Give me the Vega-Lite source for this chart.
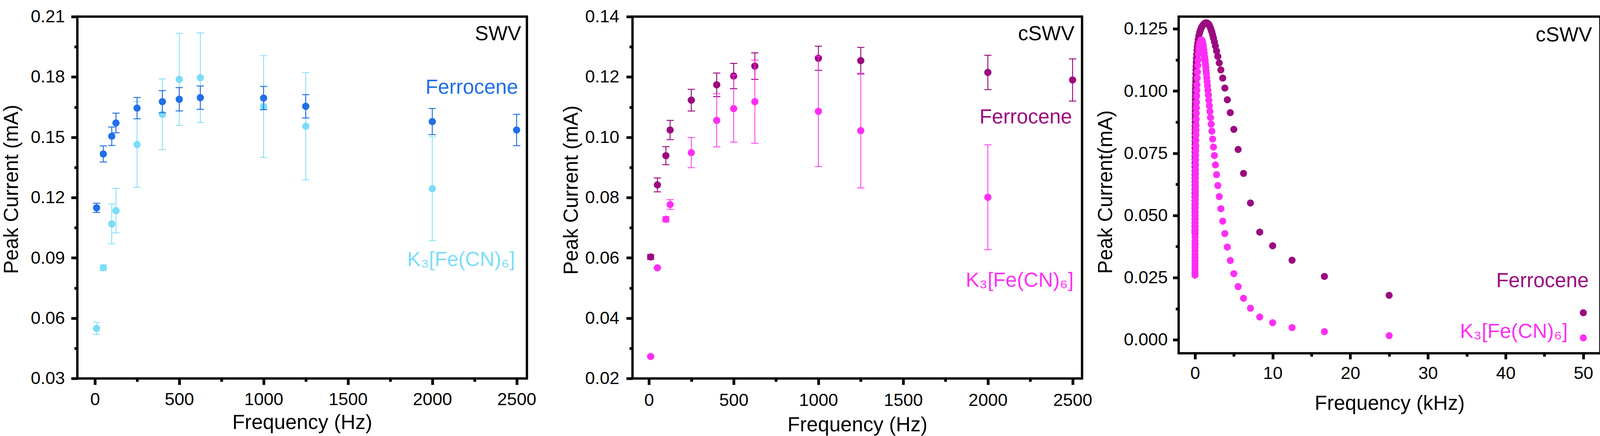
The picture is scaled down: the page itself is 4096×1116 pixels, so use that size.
{
  "$schema": "https://vega.github.io/schema/vega-lite/v6.json",
  "autosize": {"type": "pad"},
  "padding": {"left": 0, "top": -4.4, "right": 0, "bottom": 0},
  "background": "white",
  "config": {
    "font": "Liberation Sans",
    "view": {"stroke": "#000000", "strokeWidth": 6},
    "axis": {"domain": false, "grid": false, "tickColor": "#000000", "tickWidth": 7, "labelFont": "Liberation Sans", "labelFontSize": 45, "labelColor": "#000000", "titleFont": "Liberation Sans", "titleFontSize": 52, "titleFontWeight": "normal", "titleColor": "#000000", "labelFlush": false, "labelOverlap": false},
    "text": {"font": "Liberation Sans"}
  },
  "resolve": {"scale": {"color": "independent", "x": "independent", "y": "independent"}},
  "datasets": {
    "p1F": [
      {"f": 10, "i": 0.1149, "e": 0.0023, "s": "F"},
      {"f": 50, "i": 0.1417, "e": 0.0040, "s": "F"},
      {"f": 100, "i": 0.1505, "e": 0.0046, "s": "F"},
      {"f": 125, "i": 0.1571, "e": 0.0049, "s": "F"},
      {"f": 250, "i": 0.1645, "e": 0.0053, "s": "F"},
      {"f": 400, "i": 0.1677, "e": 0.0055, "s": "F"},
      {"f": 500, "i": 0.1689, "e": 0.0058, "s": "F"},
      {"f": 625, "i": 0.1697, "e": 0.0058, "s": "F"},
      {"f": 1000, "i": 0.1695, "e": 0.0058, "s": "F"},
      {"f": 1250, "i": 0.1654, "e": 0.0058, "s": "F"},
      {"f": 2000, "i": 0.1578, "e": 0.0065, "s": "F"},
      {"f": 2500, "i": 0.1536, "e": 0.0078, "s": "F"}
    ],
    "p1K": [
      {"f": 10, "i": 0.0549, "e": 0.0030, "s": "K"},
      {"f": 50, "i": 0.0851, "e": 0.0014, "s": "K"},
      {"f": 100, "i": 0.1069, "e": 0.0099, "s": "K"},
      {"f": 125, "i": 0.1135, "e": 0.0111, "s": "K"},
      {"f": 250, "i": 0.1464, "e": 0.0213, "s": "K"},
      {"f": 400, "i": 0.1614, "e": 0.0176, "s": "K"},
      {"f": 500, "i": 0.1788, "e": 0.0229, "s": "K"},
      {"f": 625, "i": 0.1796, "e": 0.0223, "s": "K"},
      {"f": 1000, "i": 0.1653, "e": 0.0253, "s": "K"},
      {"f": 1250, "i": 0.1555, "e": 0.0267, "s": "K"},
      {"f": 2000, "i": 0.1244, "e": 0.0258, "s": "K"}
    ],
    "p1T": [
      {"f": 2527, "i": 0.2013, "t": "SWV", "s": "T"},
      {"f": 2509, "i": 0.1747, "t": "Ferrocene", "s": "F"},
      {"f": 2491, "i": 0.0891, "t": "K₃[Fe(CN)₆]", "s": "K"}
    ],
    "p2F": [
      {"f": 10, "i": 0.0603, "e": 0.0008, "s": "F"},
      {"f": 50, "i": 0.0842, "e": 0.0023, "s": "F"},
      {"f": 100, "i": 0.0939, "e": 0.0030, "s": "F"},
      {"f": 125, "i": 0.1024, "e": 0.0032, "s": "F"},
      {"f": 250, "i": 0.1123, "e": 0.0036, "s": "F"},
      {"f": 400, "i": 0.1174, "e": 0.0039, "s": "F"},
      {"f": 500, "i": 0.1203, "e": 0.0042, "s": "F"},
      {"f": 625, "i": 0.1236, "e": 0.0044, "s": "F"},
      {"f": 1000, "i": 0.1262, "e": 0.0040, "s": "F"},
      {"f": 1250, "i": 0.1254, "e": 0.0044, "s": "F"},
      {"f": 2000, "i": 0.1215, "e": 0.0057, "s": "F"},
      {"f": 2500, "i": 0.1190, "e": 0.0070, "s": "F"}
    ],
    "p2K": [
      {"f": 10, "i": 0.0273, "e": 0.0003, "s": "K"},
      {"f": 50, "i": 0.0567, "e": 0.0003, "s": "K"},
      {"f": 100, "i": 0.0728, "e": 0.0009, "s": "K"},
      {"f": 125, "i": 0.0777, "e": 0.0016, "s": "K"},
      {"f": 250, "i": 0.0949, "e": 0.0050, "s": "K"},
      {"f": 400, "i": 0.1056, "e": 0.0088, "s": "K"},
      {"f": 500, "i": 0.1095, "e": 0.0111, "s": "K"},
      {"f": 625, "i": 0.1118, "e": 0.0138, "s": "K"},
      {"f": 1000, "i": 0.1086, "e": 0.0183, "s": "K"},
      {"f": 1250, "i": 0.1022, "e": 0.0190, "s": "K"},
      {"f": 2000, "i": 0.0801, "e": 0.0174, "s": "K"}
    ],
    "p2T": [
      {"f": 2511, "i": 0.1342, "t": "cSWV", "s": "T"},
      {"f": 2497, "i": 0.1067, "t": "Ferrocene", "s": "F"},
      {"f": 2506, "i": 0.0525, "t": "K₃[Fe(CN)₆]", "s": "K"}
    ],
    "p3F": [
      {"f": 50, "i": 0.0109, "s": "F"}, {"f": 25, "i": 0.0179, "s": "F"}, {"f": 16.667, "i": 0.0255, "s": "F"},
      {"f": 12.5, "i": 0.0320, "s": "F"}, {"f": 10, "i": 0.0378, "s": "F"}, {"f": 8.333, "i": 0.0433, "s": "F"},
      {"f": 7.143, "i": 0.0550, "s": "F"}, {"f": 6.25, "i": 0.0669, "s": "F"}, {"f": 5.556, "i": 0.0765, "s": "F"},
      {"f": 5.0, "i": 0.0846, "s": "F"}, {"f": 4.545, "i": 0.0913, "s": "F"}, {"f": 4.167, "i": 0.0965, "s": "F"},
      {"f": 3.846, "i": 0.1012, "s": "F"}, {"f": 3.571, "i": 0.1052, "s": "F"}, {"f": 3.333, "i": 0.1085, "s": "F"},
      {"f": 3.125, "i": 0.1113, "s": "F"}, {"f": 2.941, "i": 0.1139, "s": "F"}, {"f": 2.778, "i": 0.1161, "s": "F"},
      {"f": 2.632, "i": 0.1181, "s": "F"}, {"f": 2.5, "i": 0.1198, "s": "F"}, {"f": 2.381, "i": 0.1213, "s": "F"},
      {"f": 2.273, "i": 0.1226, "s": "F"}, {"f": 2.174, "i": 0.1237, "s": "F"}, {"f": 2.083, "i": 0.1246, "s": "F"},
      {"f": 2.0, "i": 0.1253, "s": "F"}, {"f": 1.923, "i": 0.1259, "s": "F"}, {"f": 1.852, "i": 0.1264, "s": "F"},
      {"f": 1.786, "i": 0.1267, "s": "F"}, {"f": 1.724, "i": 0.1269, "s": "F"}, {"f": 1.667, "i": 0.1271, "s": "F"},
      {"f": 1.613, "i": 0.1272, "s": "F"}, {"f": 1.563, "i": 0.1273, "s": "F"}, {"f": 1.5, "i": 0.1274, "s": "F"},
      {"f": 1.429, "i": 0.1274, "s": "F"}, {"f": 1.36, "i": 0.1274, "s": "F"}, {"f": 1.3, "i": 0.1273, "s": "F"},
      {"f": 1.2, "i": 0.1271, "s": "F"}, {"f": 1.1, "i": 0.1268, "s": "F"}, {"f": 1.0, "i": 0.1264, "s": "F"},
      {"f": 0.9, "i": 0.1259, "s": "F"}, {"f": 0.8, "i": 0.1253, "s": "F"}, {"f": 0.7, "i": 0.1245, "s": "F"},
      {"f": 0.6, "i": 0.1235, "s": "F"}, {"f": 0.5, "i": 0.1222, "s": "F"}, {"f": 0.42, "i": 0.1208, "s": "F"},
      {"f": 0.35, "i": 0.1192, "s": "F"}, {"f": 0.3, "i": 0.1178, "s": "F"}, {"f": 0.26, "i": 0.1164, "s": "F"},
      {"f": 0.22, "i": 0.1147, "s": "F"}, {"f": 0.19, "i": 0.1131, "s": "F"}, {"f": 0.165, "i": 0.1115, "s": "F"},
      {"f": 0.145, "i": 0.1099, "s": "F"}, {"f": 0.13, "i": 0.1085, "s": "F"}, {"f": 0.115, "i": 0.1069, "s": "F"},
      {"f": 0.1, "i": 0.1052, "s": "F"}, {"f": 0.09, "i": 0.1038, "s": "F"}, {"f": 0.08, "i": 0.1023, "s": "F"},
      {"f": 0.072, "i": 0.1009, "s": "F"}, {"f": 0.065, "i": 0.0995, "s": "F"}, {"f": 0.058, "i": 0.0980, "s": "F"},
      {"f": 0.052, "i": 0.0965, "s": "F"}, {"f": 0.047, "i": 0.0950, "s": "F"}, {"f": 0.042, "i": 0.0935, "s": "F"},
      {"f": 0.038, "i": 0.0920, "s": "F"}, {"f": 0.034, "i": 0.0905, "s": "F"}, {"f": 0.031, "i": 0.0890, "s": "F"},
      {"f": 0.028, "i": 0.0875, "s": "F"}, {"f": 0.025, "i": 0.0860, "s": "F"}, {"f": 0.023, "i": 0.0845, "s": "F"},
      {"f": 0.021, "i": 0.0830, "s": "F"}, {"f": 0.019, "i": 0.0815, "s": "F"}, {"f": 0.017, "i": 0.0800, "s": "F"},
      {"f": 0.016, "i": 0.0785, "s": "F"}, {"f": 0.015, "i": 0.0770, "s": "F"}, {"f": 0.014, "i": 0.0755, "s": "F"},
      {"f": 0.013, "i": 0.0740, "s": "F"}, {"f": 0.012, "i": 0.0725, "s": "F"}, {"f": 0.011, "i": 0.0710, "s": "F"},
      {"f": 0.010, "i": 0.0695, "s": "F"}, {"f": 0.0095, "i": 0.0680, "s": "F"}, {"f": 0.009, "i": 0.0665, "s": "F"},
      {"f": 0.0085, "i": 0.0650, "s": "F"}, {"f": 0.008, "i": 0.0635, "s": "F"}, {"f": 0.0075, "i": 0.0620, "s": "F"},
      {"f": 0.007, "i": 0.0605, "s": "F"}, {"f": 0.0066, "i": 0.0590, "s": "F"}, {"f": 0.0062, "i": 0.0575, "s": "F"},
      {"f": 0.0058, "i": 0.0560, "s": "F"}, {"f": 0.0054, "i": 0.0545, "s": "F"}, {"f": 0.005, "i": 0.0530, "s": "F"},
      {"f": 0.0047, "i": 0.0515, "s": "F"}, {"f": 0.0044, "i": 0.0500, "s": "F"}, {"f": 0.0041, "i": 0.0485, "s": "F"},
      {"f": 0.0038, "i": 0.0470, "s": "F"}, {"f": 0.0035, "i": 0.0455, "s": "F"}, {"f": 0.0032, "i": 0.0440, "s": "F"},
      {"f": 0.003, "i": 0.0430, "s": "F"}
    ],
    "p3K": [
      {"f": 50, "i": 0.0008, "s": "K"}, {"f": 25, "i": 0.0017, "s": "K"}, {"f": 16.667, "i": 0.0033, "s": "K"},
      {"f": 12.5, "i": 0.0049, "s": "K"}, {"f": 10, "i": 0.0069, "s": "K"}, {"f": 8.333, "i": 0.0092, "s": "K"},
      {"f": 7.143, "i": 0.0127, "s": "K"}, {"f": 6.25, "i": 0.0167, "s": "K"}, {"f": 5.556, "i": 0.0214, "s": "K"},
      {"f": 5.0, "i": 0.0266, "s": "K"}, {"f": 4.545, "i": 0.0319, "s": "K"}, {"f": 4.167, "i": 0.0373, "s": "K"},
      {"f": 3.846, "i": 0.0427, "s": "K"}, {"f": 3.571, "i": 0.0477, "s": "K"}, {"f": 3.333, "i": 0.0527, "s": "K"},
      {"f": 3.125, "i": 0.0576, "s": "K"}, {"f": 2.941, "i": 0.0620, "s": "K"}, {"f": 2.778, "i": 0.0664, "s": "K"},
      {"f": 2.632, "i": 0.0703, "s": "K"}, {"f": 2.5, "i": 0.0741, "s": "K"}, {"f": 2.381, "i": 0.0775, "s": "K"},
      {"f": 2.273, "i": 0.0807, "s": "K"}, {"f": 2.174, "i": 0.0839, "s": "K"}, {"f": 2.083, "i": 0.0867, "s": "K"},
      {"f": 2.0, "i": 0.0893, "s": "K"}, {"f": 1.923, "i": 0.0918, "s": "K"}, {"f": 1.852, "i": 0.0941, "s": "K"},
      {"f": 1.786, "i": 0.0963, "s": "K"}, {"f": 1.724, "i": 0.0984, "s": "K"}, {"f": 1.667, "i": 0.1003, "s": "K"},
      {"f": 1.613, "i": 0.1021, "s": "K"}, {"f": 1.563, "i": 0.1038, "s": "K"}, {"f": 1.515, "i": 0.1054, "s": "K"},
      {"f": 1.471, "i": 0.1069, "s": "K"}, {"f": 1.429, "i": 0.1082, "s": "K"}, {"f": 1.389, "i": 0.1095, "s": "K"},
      {"f": 1.351, "i": 0.1107, "s": "K"}, {"f": 1.316, "i": 0.1118, "s": "K"}, {"f": 1.282, "i": 0.1128, "s": "K"},
      {"f": 1.25, "i": 0.1137, "s": "K"}, {"f": 1.19, "i": 0.1153, "s": "K"}, {"f": 1.136, "i": 0.1166, "s": "K"},
      {"f": 1.087, "i": 0.1177, "s": "K"}, {"f": 1.042, "i": 0.1186, "s": "K"}, {"f": 1.0, "i": 0.1193, "s": "K"},
      {"f": 0.943, "i": 0.1200, "s": "K"}, {"f": 0.893, "i": 0.1204, "s": "K"}, {"f": 0.833, "i": 0.1206, "s": "K"},
      {"f": 0.769, "i": 0.1205, "s": "K"}, {"f": 0.714, "i": 0.1201, "s": "K"}, {"f": 0.65, "i": 0.1195, "s": "K"},
      {"f": 0.6, "i": 0.1188, "s": "K"}, {"f": 0.55, "i": 0.1178, "s": "K"}, {"f": 0.5, "i": 0.1165, "s": "K"},
      {"f": 0.45, "i": 0.1148, "s": "K"}, {"f": 0.4, "i": 0.1125, "s": "K"}, {"f": 0.36, "i": 0.1103, "s": "K"},
      {"f": 0.32, "i": 0.1077, "s": "K"}, {"f": 0.29, "i": 0.1052, "s": "K"}, {"f": 0.26, "i": 0.1025, "s": "K"},
      {"f": 0.24, "i": 0.1003, "s": "K"}, {"f": 0.22, "i": 0.0980, "s": "K"}, {"f": 0.2, "i": 0.0955, "s": "K"},
      {"f": 0.185, "i": 0.0933, "s": "K"}, {"f": 0.17, "i": 0.0911, "s": "K"}, {"f": 0.155, "i": 0.0887, "s": "K"},
      {"f": 0.14, "i": 0.0862, "s": "K"}, {"f": 0.13, "i": 0.0843, "s": "K"}, {"f": 0.12, "i": 0.0823, "s": "K"},
      {"f": 0.11, "i": 0.0802, "s": "K"}, {"f": 0.1, "i": 0.0780, "s": "K"}, {"f": 0.092, "i": 0.0760, "s": "K"},
      {"f": 0.085, "i": 0.0742, "s": "K"}, {"f": 0.078, "i": 0.0723, "s": "K"}, {"f": 0.071, "i": 0.0703, "s": "K"},
      {"f": 0.065, "i": 0.0684, "s": "K"}, {"f": 0.06, "i": 0.0667, "s": "K"}, {"f": 0.055, "i": 0.0650, "s": "K"},
      {"f": 0.05, "i": 0.0631, "s": "K"}, {"f": 0.046, "i": 0.0615, "s": "K"}, {"f": 0.042, "i": 0.0598, "s": "K"},
      {"f": 0.038, "i": 0.0580, "s": "K"}, {"f": 0.035, "i": 0.0565, "s": "K"}, {"f": 0.032, "i": 0.0549, "s": "K"},
      {"f": 0.029, "i": 0.0532, "s": "K"}, {"f": 0.026, "i": 0.0514, "s": "K"}, {"f": 0.024, "i": 0.0500, "s": "K"},
      {"f": 0.022, "i": 0.0486, "s": "K"}, {"f": 0.02, "i": 0.0471, "s": "K"}, {"f": 0.018, "i": 0.0455, "s": "K"},
      {"f": 0.0165, "i": 0.0442, "s": "K"}, {"f": 0.015, "i": 0.0428, "s": "K"}, {"f": 0.0135, "i": 0.0413, "s": "K"},
      {"f": 0.012, "i": 0.0397, "s": "K"}, {"f": 0.011, "i": 0.0385, "s": "K"}, {"f": 0.010, "i": 0.0372, "s": "K"},
      {"f": 0.009, "i": 0.0358, "s": "K"}, {"f": 0.008, "i": 0.0344, "s": "K"}, {"f": 0.0072, "i": 0.0331, "s": "K"},
      {"f": 0.0065, "i": 0.0319, "s": "K"}, {"f": 0.0058, "i": 0.0306, "s": "K"}, {"f": 0.0052, "i": 0.0294, "s": "K"},
      {"f": 0.0046, "i": 0.0282, "s": "K"}, {"f": 0.004, "i": 0.0270, "s": "K"}, {"f": 0.0035, "i": 0.0260, "s": "K"}
    ],
    "p3T": [
      {"f": 51.13, "i": 0.1225, "t": "cSWV", "s": "T"},
      {"f": 50.7, "i": 0.0237, "t": "Ferrocene", "s": "F"},
      {"f": 48.0, "i": 0.0033, "t": "K₃[Fe(CN)₆]", "s": "K"}
    ]
  },
  "columns": 3,
  "spacing": {"row": 0, "column": 247.2},
  "align": {"row": "none", "column": "each"},
  "bounds": "flush",
  "concat": [
    {"width": 1173.4, "height": 1, "data": {"values": []}, "mark": {"type": "point"}, "encoding": {}, "view": {"stroke": null}},
    {"width": 100, "height": 23.5, "data": {"values": []}, "mark": {"type": "point"}, "encoding": {}, "view": {"stroke": null}},
    {"width": 100, "height": 46.9, "data": {"values": []}, "mark": {"type": "point"}, "encoding": {}, "view": {"stroke": null}},
    {
      "width": 1150.9,
      "height": 926.2,
      "encoding": {
        "x": {"field": "f", "type": "quantitative", "scale": {"domain": [-104, 2561], "nice": false, "zero": false},
          "axis": {"title": "Frequency (Hz)", "values": [0, 250, 500, 750, 1000, 1250, 1500, 1750, 2000, 2250, 2500], "format": "d",
            "labelExpr": "datum.value % 500 === 0 ? datum.label : ''",
            "tickSize": {"condition": {"test": "datum.value % 500 === 0", "value": 16}, "value": 8},
            "labelPadding": 15.4, "titleY": 113, "titleBaseline": "middle"}},
        "y": {"field": "i", "type": "quantitative", "scale": {"domain": [0.03, 0.21], "nice": false, "zero": false},
          "axis": {"title": "Peak Current (mA)", "values": [0.03, 0.045, 0.06, 0.075, 0.09, 0.105, 0.12, 0.135, 0.15, 0.165, 0.18, 0.195, 0.21], "format": ".2f",
            "labelExpr": "abs(datum.value*100/3 - round(datum.value*100/3)) < 0.01 ? datum.label : ''",
            "tickSize": {"condition": {"test": "abs(datum.value*100/3 - round(datum.value*100/3)) < 0.01", "value": 16}, "value": 8},
            "labelPadding": 16.2, "titleX": -168.5, "titleY": 441.6, "titleAngle": 270, "titleBaseline": "middle", "titleAlign": "center"}},
        "color": {"field": "s", "type": "nominal", "scale": {"domain": ["F", "K", "T"], "range": ["#1F6FE8", "#7ADDF8", "#000000"]}, "legend": null}
      },
      "layer": [
        {"data": {"name": "p1K"}, "mark": {"type": "circle", "size": 345, "opacity": 1}},
        {"data": {"name": "p1K"}, "mark": {"type": "errorbar", "ticks": true, "size": 18.6, "thickness": 2, "opacity": 1}, "encoding": {"yError": {"field": "e"}}},
        {"data": {"name": "p1F"}, "mark": {"type": "circle", "size": 345, "opacity": 1}},
        {"data": {"name": "p1F"}, "mark": {"type": "errorbar", "ticks": true, "size": 18.6, "thickness": 2.4, "opacity": 1}, "encoding": {"yError": {"field": "e"}}},
        {"data": {"name": "p1T"}, "mark": {"type": "text", "align": "right", "baseline": "middle", "fontSize": 52}, "encoding": {"text": {"field": "t"}}}
      ]
    },
    {
      "width": 1150.9,
      "height": 926.2,
      "encoding": {
        "x": {"field": "f", "type": "quantitative", "scale": {"domain": [-97, 2556], "nice": false, "zero": false},
          "axis": {"title": "Frequency (Hz)", "values": [0, 250, 500, 750, 1000, 1250, 1500, 1750, 2000, 2250, 2500], "format": "d",
            "labelExpr": "datum.value % 500 === 0 ? datum.label : ''",
            "tickSize": {"condition": {"test": "datum.value % 500 === 0", "value": 16}, "value": 8},
            "labelPadding": 17.4, "titleY": 119, "titleBaseline": "middle"}},
        "y": {"field": "i", "type": "quantitative", "scale": {"domain": [0.02, 0.14], "nice": false, "zero": false},
          "axis": {"title": "Peak Current (mA)", "values": [0.02, 0.03, 0.04, 0.05, 0.06, 0.07, 0.08, 0.09, 0.10, 0.11, 0.12, 0.13, 0.14], "format": ".2f",
            "labelExpr": "abs(datum.value*50 - round(datum.value*50)) < 0.01 ? datum.label : ''",
            "tickSize": {"condition": {"test": "abs(datum.value*50 - round(datum.value*50)) < 0.01", "value": 16}, "value": 8},
            "labelPadding": 18.2, "titleX": -157, "titleY": 443.6, "titleAngle": 270, "titleBaseline": "middle", "titleAlign": "center"}},
        "color": {"field": "s", "type": "nominal", "scale": {"domain": ["F", "K", "T"], "range": ["#9B0A80", "#FF2EF5", "#000000"]}, "legend": null}
      },
      "layer": [
        {"data": {"name": "p2F"}, "mark": {"type": "circle", "size": 345, "opacity": 1}},
        {"data": {"name": "p2F"}, "mark": {"type": "errorbar", "ticks": true, "size": 18.6, "thickness": 2.4, "opacity": 1}, "encoding": {"yError": {"field": "e"}}},
        {"data": {"name": "p2K"}, "mark": {"type": "circle", "size": 345, "opacity": 1}},
        {"data": {"name": "p2K"}, "mark": {"type": "errorbar", "ticks": true, "size": 18.6, "thickness": 2, "opacity": 1}, "encoding": {"yError": {"field": "e"}}},
        {"data": {"name": "p2T"}, "mark": {"type": "text", "align": "right", "baseline": "middle", "fontSize": 52}, "encoding": {"text": {"field": "t"}}}
      ]
    },
    {
      "width": 1079.6,
      "height": 861.7,
      "encoding": {
        "x": {"field": "f", "type": "quantitative", "scale": {"domain": [-2.1, 52.2], "nice": false, "zero": false},
          "axis": {"title": "Frequency (kHz)", "values": [0, 5, 10, 15, 20, 25, 30, 35, 40, 45, 50], "format": "d",
            "labelExpr": "datum.value % 10 === 0 ? datum.label : ''",
            "tickSize": {"condition": {"test": "datum.value % 10 === 0", "value": 15}, "value": 8},
            "labelPadding": 14.5, "titleY": 128, "titleBaseline": "middle"}},
        "y": {"field": "i", "type": "quantitative", "scale": {"domain": [-0.0054, 0.1299], "nice": false, "zero": false},
          "axis": {"title": "Peak Current(mA)", "values": [0, 0.0125, 0.025, 0.0375, 0.05, 0.0625, 0.075, 0.0875, 0.1, 0.1125, 0.125], "format": ".3f",
            "labelExpr": "abs(datum.value*40 - round(datum.value*40)) < 0.01 ? datum.label : ''",
            "tickSize": {"condition": {"test": "abs(datum.value*40 - round(datum.value*40)) < 0.01", "value": 15}, "value": 8},
            "labelPadding": 13.3, "titleX": -186.6, "titleY": 448.4, "titleAngle": 270, "titleBaseline": "middle", "titleAlign": "center"}},
        "color": {"field": "s", "type": "nominal", "scale": {"domain": ["F", "K", "T"], "range": ["#9B0A80", "#FF2EF5", "#000000"]}, "legend": null}
      },
      "layer": [
        {"data": {"name": "p3F"}, "mark": {"type": "circle", "size": 330, "opacity": 1}},
        {"data": {"name": "p3K"}, "mark": {"type": "circle", "size": 330, "opacity": 1}},
        {"data": {"name": "p3T"}, "mark": {"type": "text", "align": "right", "baseline": "middle", "fontSize": 52}, "encoding": {"text": {"field": "t"}}}
      ]
    }
  ]
}
